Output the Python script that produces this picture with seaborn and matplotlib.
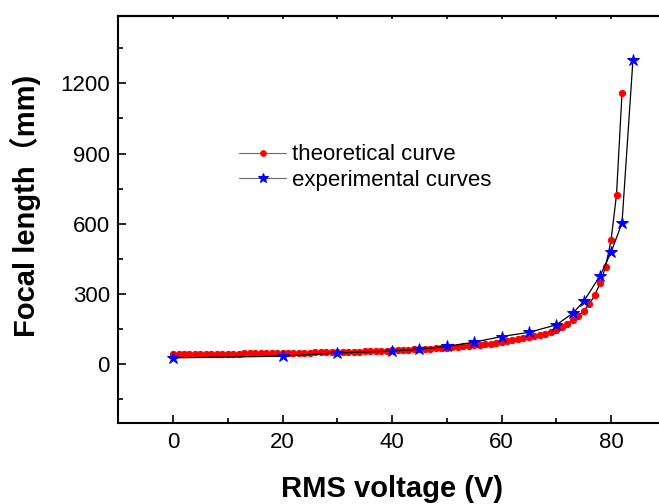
import numpy as np
import pandas as pd
import matplotlib
matplotlib.use('Agg')
import matplotlib.pyplot as plt
import seaborn as sns
from matplotlib.ticker import MultipleLocator

# Theoretical curve: focal length (mm) at each RMS voltage 0..82 V
theory_v = list(range(0, 83))
theory_f = [43, 43, 43, 43, 44, 44, 44, 44, 44, 45,
            45, 45, 45, 46, 46, 46, 46, 47, 47, 47,
            48, 48, 48, 49, 49, 49, 50, 50, 51, 51,
            52, 52, 53, 53, 54, 55, 55, 56, 57, 58,
            59, 60, 61, 62, 63, 64, 65, 66, 68, 69,
            71, 72, 74, 76, 78, 80, 82, 85, 88, 91,
            95, 98, 102, 106, 111, 115, 119, 124, 130, 137,
            147, 158, 171, 187, 206, 228, 256, 294, 345, 416,
            529, 725, 1157]

# Experimental curve
exp_v = [0, 20, 30, 40, 45, 50, 55, 60, 65, 70, 73, 75, 78, 80, 82, 84]
exp_f = [27, 34, 48, 56, 64, 76, 94, 118, 136, 168, 217, 268, 378, 478, 603, 1300]

theory = pd.DataFrame({'V': theory_v, 'f': theory_f})
experiment = pd.DataFrame({'V': exp_v, 'f': exp_f})

sns.set_style('ticks')
plt.rcParams['font.family'] = ['Liberation Sans', 'Noto Sans CJK SC', 'DejaVu Sans']
plt.rcParams.update({'text.color': 'black', 'axes.labelcolor': 'black',
                     'xtick.color': 'black', 'ytick.color': 'black',
                     'axes.edgecolor': 'black'})

fig = plt.figure(figsize=(6.59, 5.04), dpi=100)
ax = fig.add_axes([0.1795, 0.160, 0.8308, 0.8087])

sns.lineplot(data=theory, x='V', y='f', ax=ax, color='black', linewidth=0.9,
             marker='o', markersize=4.5, markerfacecolor='red', markeredgecolor='red',
             label='theoretical curve')
sns.lineplot(data=experiment, x='V', y='f', ax=ax, color='black', linewidth=0.9,
             marker='*', markersize=9, markerfacecolor='blue', markeredgecolor='blue',
             label='experimental curves')

ax.set_xlim(-10, 90)
ax.set_ylim(-253, 1489)
ax.xaxis.set_major_locator(MultipleLocator(20))
ax.xaxis.set_minor_locator(MultipleLocator(10))
ax.yaxis.set_major_locator(MultipleLocator(300))
ax.yaxis.set_minor_locator(MultipleLocator(150))
ax.set_yticks([0, 300, 600, 900, 1200])

for side in ['left', 'bottom', 'top']:
    ax.spines[side].set_linewidth(1.5)
ax.spines['right'].set_visible(False)

ax.tick_params(which='major', direction='in', length=6, width=1.2, labelsize=16, pad=6,
               colors='black')
ax.tick_params(which='minor', direction='in', length=3.5, width=1.2, colors='black')

# short ticks along the top frame
top = ax.secondary_xaxis('top')
top.set_xticks(np.arange(-10, 91, 10))
top.tick_params(direction='in', length=2, width=1.2, labeltop=False, colors='black')
top.spines['top'].set_linewidth(1.5)

ax.set_xlabel('RMS voltage (V)', fontsize=21, fontweight='bold', labelpad=16)
ax.set_ylabel('Focal length（mm)', fontsize=21, fontweight='bold')
ax.yaxis.set_label_coords(-0.142, 0.533)

leg = ax.legend(loc='upper left', bbox_to_anchor=(0.205, 0.706), frameon=False,
                fontsize=16, handlelength=2.1, handletextpad=0.25, labelspacing=0.2,
                borderaxespad=0)
for line in leg.get_lines():
    line.set_color('dimgray')
    line.set_linewidth(0.8)
leg.get_lines()[0].set_markersize(4)
leg.get_lines()[1].set_markersize(7)

fig.savefig('out.png', dpi=100)
